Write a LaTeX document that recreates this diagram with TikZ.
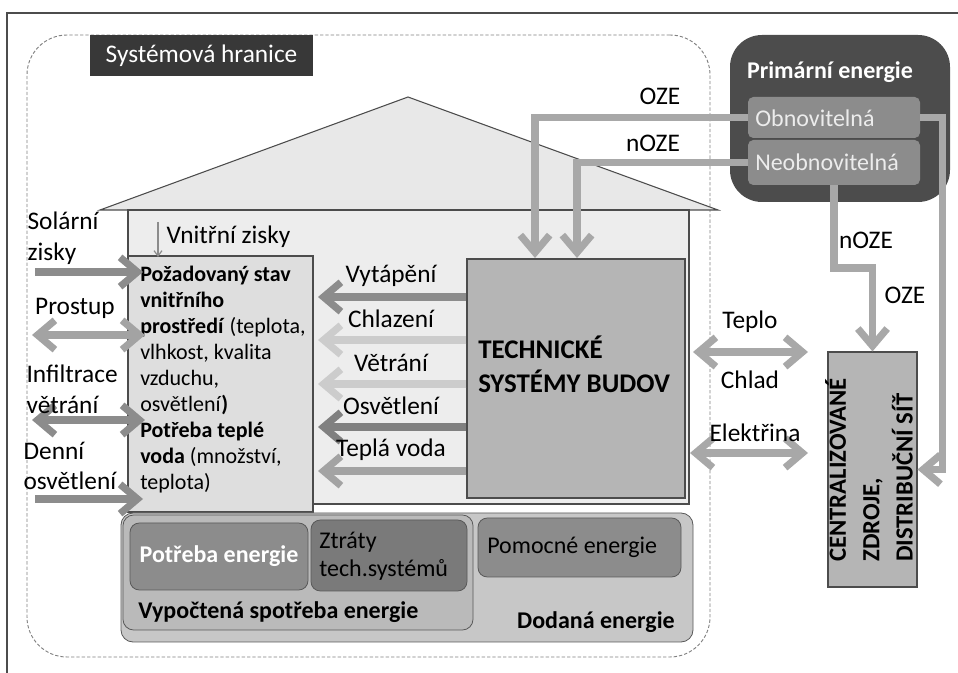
\documentclass[tikz,border=0pt]{standalone}
\usepackage{fontspec}
\setmainfont{Carlito}
\usetikzlibrary{calc,fit,arrows.meta}

\definecolor{framec}{gray}{0.30}
\definecolor{boundc}{gray}{0.50}
\definecolor{labelc}{gray}{0.22}
\definecolor{roofc}{gray}{0.91}
\definecolor{housec}{gray}{0.93}
\definecolor{leftc}{gray}{0.87}
\definecolor{techc}{gray}{0.71}
\definecolor{dodc}{gray}{0.78}
\definecolor{vypc}{gray}{0.73}
\definecolor{potc}{gray}{0.55}
\definecolor{ztrc}{gray}{0.48}
\definecolor{primc}{gray}{0.30}
\definecolor{subc}{gray}{0.55}
\definecolor{arrd}{gray}{0.55}
\definecolor{arrdd}{gray}{0.50}
\definecolor{arrm}{gray}{0.64}
\definecolor{arrl}{gray}{0.80}
\definecolor{ozec}{gray}{0.66}

\tikzset{
  box/.style={inner sep=0pt, draw=framec, line width=0.8pt},
  rbox/.style={inner sep=0pt, draw=gray!70!black, line width=0.6pt},
  lbl/.style={font=\fontsize{19}{23}\selectfont, inner sep=1pt},
  fat/.style={line width=5.4pt, -{Straight Barb[length=13pt,width=22pt]}},
  fatboth/.style={line width=5.4pt, {Straight Barb[length=13pt,width=22pt]}-{Straight Barb[length=13pt,width=22pt]}},
}

\begin{document}
\begin{tikzpicture}[x=0.75pt,y=-0.75pt]
  \useasboundingbox (0,0) rectangle (958,673);

  %% frame and system boundary
  \coordinate (FR1) at (7,673);
  \coordinate (FR2) at (7,13);
  \coordinate (FR3) at (958,13);
  \draw[framec, line width=1pt] (FR1) -- (FR2) -- (FR3);
  \node[fit={(27,35) (710,657)}, inner sep=0pt, draw=boundc, line width=0.7pt,
        dash pattern=on 2.5pt off 1.5pt, rounded corners=30pt] (HRANICE) {};
  \node[fit={(90,35) (313,76)}, inner sep=0pt, fill=labelc] (SH) {};
  \node[text=white, font=\fontsize{19}{23}\selectfont] (SHT) at (SH) {Systémová hranice};

  %% house
  \coordinate (RL) at (100,210);
  \coordinate (RT) at (408,97);
  \coordinate (RR) at (718,210);
  \draw[framec, line width=0.8pt, fill=roofc] (RL) -- (RT) -- (RR) -- cycle;
  \node[box, fill=housec, fit={(128,210) (689,504)}] (DUM) {};

  %% indoor environment
  \node[box, fill=leftc, fit={(128,256) (313,512)}] (POZ) {};
  \node[anchor=west, align=left, inner sep=0pt,
        font=\fontsize{16.5}{19.5}\selectfont] (POZT) at (140,380)
    {\textbf{Požadovaný stav}\\\textbf{vnitřního}\\\textbf{prostředí} (teplota,\\vlhkost, kvalita\\vzduchu,\\osvětlení\textbf{)}\\\textbf{Potřeba teplé}\\\textbf{voda} (množství,\\teplota)};

  %% technical systems
  \node[box, fill=techc, fit={(467,259) (685,498)}] (TSB) {};
  \node[anchor=west, align=left, inner sep=0pt,
        font=\bfseries\fontsize{20.2}{25.5}\selectfont] (TSBT) at (478,364)
    {TECHNICKÉ\\SYSTÉMY BUDOV};

  %% energy boxes
  \node[rbox, fill=dodc, rounded corners=9pt, fit={(121,513) (693,642)}] (DOD) {};
  \node[rbox, fill=vypc, rounded corners=8pt, fit={(123,515) (473,630)}] (VYP) {};
  \node[rbox, fill=potc, rounded corners=7pt, fit={(130,523) (308,590)}] (POT) {};
  \node[text=white, font=\bfseries\fontsize{18}{22}\selectfont] (POTT) at (POT) {Potřeba energie};
  \node[rbox, fill=ztrc, rounded corners=7pt, fit={(311,520) (467,591)}] (ZTR) {};
  \node[anchor=west, align=left, inner sep=0pt,
        font=\fontsize{18}{21}\selectfont] (ZTRT) at (319,556) {Ztráty\\tech.systémů};
  \node[rbox, fill=potc, rounded corners=7pt, fit={(478,518) (681,577)}] (POM) {};
  \node[anchor=west, inner sep=0pt, font=\fontsize{18}{22}\selectfont] (POMT) at (487,547) {Pomocné energie};
  \node[anchor=west, inner sep=0pt, font=\bfseries\fontsize{18}{22}\selectfont] (VYPT) at (138,612)
    {Vypočtená spotřeba energie};
  \node[anchor=east, inner sep=0pt, font=\bfseries\fontsize{18}{22}\selectfont] (DODT) at (675,622)
    {Dodaná energie};

  %% primary energy
  \node[inner sep=0pt, fill=primc, rounded corners=24pt, fit={(730,35) (950,202)}] (PRI) {};
  \node[text=white, font=\bfseries\fontsize{18}{22}\selectfont] (PRIT) at (830,72) {Primární energie};
  \node[inner sep=0pt, fill=subc, rounded corners=4pt, fit={(748,97) (920,138)}] (OBN) {};
  \node[inner sep=0pt, fill=subc, rounded corners=4pt, fit={(748,140) (920,185)}] (NEO) {};
  \node[anchor=west, text=gray!15, font=\fontsize{18}{22}\selectfont, inner sep=0pt] (OBNT) at (755,118) {Obnovitelná};
  \node[anchor=west, text=gray!15, font=\fontsize{18}{22}\selectfont, inner sep=0pt] (NEOT) at (755,162) {Neobnovitelná};

  %% centralized sources
  \node[box, fill=techc, fit={(828,352) (917,587)}] (CEN) {};
  \node[rotate=90, align=left, inner sep=0pt,
        font=\bfseries\fontsize{18.5}{25}\selectfont] (CENT) at (869,470)
    {CENTRALIZOVANÉ\\ZDROJE,\\DISTRIBUČNÍ SÍŤ};

  %% OZE / nOZE flows
  \coordinate (OZE1) at (535,258);
  \coordinate (NOZE1) at (577,258);
  \coordinate (KNEE) at (834,268);
  \draw[fat, ozec] (OBN.west) -| (OZE1);
  \draw[fat, ozec] (NEO.west) -| (NOZE1);
  \draw[fat, ozec] (NEO.south) -- (KNEE) -| (CEN.north);
  \draw[fat, ozec] (OBN.east) -- ++(22,0) |- (CEN.east);
  \node[lbl] (LOZE1) at (660,96) {OZE};
  \node[lbl] (LNOZE1) at (653,143) {nOZE};
  \node[lbl] (LNOZE2) at (866,240) {nOZE};
  \node[lbl] (LOZE2) at (905,295) {OZE};

  %% heat, cold, electricity
  \coordinate (TC1) at (693,352);
  \coordinate (TC2) at (808,352);
  \coordinate (EL1) at (690,453);
  \coordinate (EL2) at (808,453);
  \draw[fatboth, ozec] (TC1) -- (TC2);
  \draw[fatboth, ozec] (EL1) -- (EL2);
  \node[lbl] (TEP) at (750,322) {Teplo};
  \node[lbl] (CHD) at (750,380) {Chlad};
  \node[lbl] (ELE) at (755,433) {Elektřina};

  %% supplies from technical systems
  \foreach \y/\c/\n/\t in {297/arrd/VYT/Vytápění, 340/arrl/CHL/Chlazení,
                           384/arrl/VET/Větrání, 427/arrdd/OSV/Osvětlení,
                           471/arrm/TV/Teplá voda}
  {
    \coordinate (\n) at (318,\y);
    \draw[fat, \c] (TSB.west |- \n) -- (\n);
    \node[lbl] (L\n) at (391,\y-21) {\t};
  }

  %% outside influences
  \foreach \y/\c/\n in {272/arrd/SOL, 499/arrd/DEN}
  {
    \coordinate (\n1) at (35,\y);
    \coordinate (\n2) at (143,\y);
    \draw[fat, \c] (\n1) -- (\n2);
  }
  \foreach \y/\c/\n in {335/arrm/PRO, 420/arrd/INF}
  {
    \coordinate (\n1) at (32,\y);
    \coordinate (\n2) at (145,\y);
    \draw[fatboth, \c] (\n1) -- (\n2);
  }
  \node[lbl, anchor=west, align=left] (LSOL) at (26,238) {Solární\\zisky};
  \node[lbl] (LPRO) at (75,308) {Prostup};
  \node[lbl, anchor=west, align=left] (LINF) at (25,389) {Infiltrace\\větrání};
  \node[lbl, anchor=west, align=left] (LDEN) at (22,466) {Denní\\osvětlení};

  %% internal gains
  \coordinate (VZ1) at (158,222);
  \coordinate (VZ2) at (158,257);
  \draw[arrd, line width=0.9pt, -{Straight Barb[length=4pt,width=6pt]}] (VZ1) -- (VZ2);
  \node[lbl, anchor=west] (LVZ) at (165,237) {Vnitřní zisky};
\end{tikzpicture}
\end{document}
